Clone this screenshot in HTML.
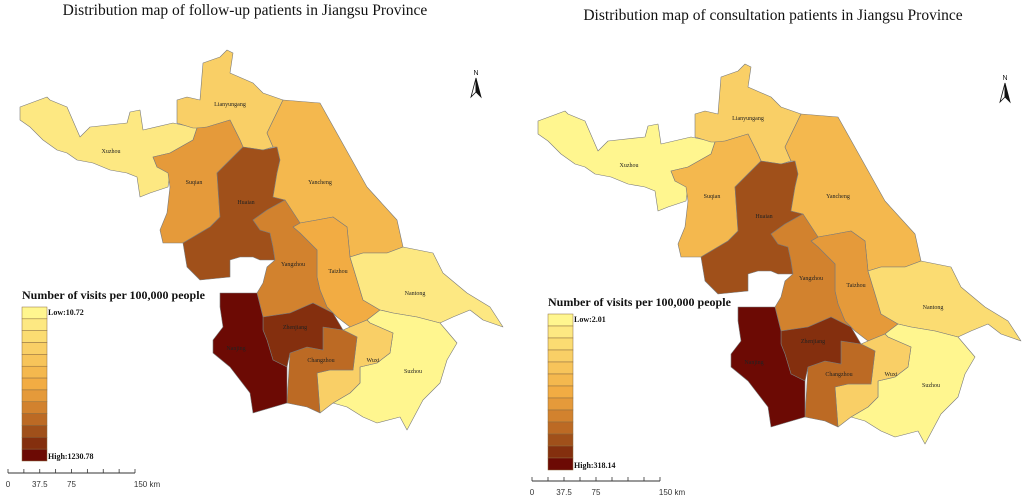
<!DOCTYPE html>
<html><head><meta charset="utf-8">
<style>
html,body{margin:0;padding:0;background:#fff;}
svg{display:block;}
.ttl{font-family:"Liberation Serif",serif;font-size:15.5px;fill:#111;}
.lbl{font-family:"Liberation Serif",serif;font-size:6px;fill:#222;text-anchor:middle;}
.lgt{font-family:"Liberation Serif",serif;font-weight:bold;font-size:12px;fill:#111;}
.lgl{font-family:"Liberation Serif",serif;font-weight:bold;font-size:8px;fill:#111;}
.sc{font-family:"Liberation Sans",sans-serif;font-size:8px;fill:#333;text-anchor:middle;}
</style></head>
<body>
<svg id="chart" width="1026" height="503" viewBox="0 0 1026 503"></svg>
<script>
const cities = ["Xuzhou","Lianyungang","Suqian","Huaian","Yancheng","Taizhou","Yangzhou","Nantong","Suzhou","Wuxi","Changzhou","Zhenjiang","Nanjing"];
const followUpValues = [112, 316, 722, 1027, 519, 620, 824, 112, 11, 316, 925, 1129, 1231];
const consultValues = [2, 81, 134, 265, 134, 186, 213, 55, 2, 81, 239, 292, 318];
const followUpRange = [10.72, 1230.78];
const consultRange = [2.01, 318.14];
const followUpLegend = ["Low:10.72", "High:1230.78"];
const consultLegend = ["Low:2.01", "High:318.14"];
const scaleTicks = ["0", "37.5", "75", "150 km"];

const ramp = ["#fff68f","#fde882","#fbdc72","#f9cf66","#f7c45a","#f4b84e","#f2ac43","#e59a3a","#d2822e","#bc6a24","#a0501a","#842f0e","#6c0a04"];
const shapes = {
Xuzhou:[[20,107],[47,97],[50,100],[67,107],[80,137],[90,127],[127,123],[130,112],[140,110],[143,130],[173,123],[197,128],[193,140],[170,153],[153,157],[157,167],[170,173],[168,187],[150,193],[140,197],[137,177],[127,173],[110,170],[93,163],[77,160],[67,153],[57,150],[43,140],[30,127],[20,120]],
Lianyungang:[[177,100],[187,97],[200,100],[203,63],[220,57],[227,50],[233,53],[230,73],[253,83],[263,93],[283,100],[267,133],[273,147],[263,150],[243,147],[240,140],[230,120],[207,127],[200,128],[193,128],[177,123]],
Suqian:[[197,128],[207,127],[230,120],[240,140],[243,147],[237,153],[217,173],[220,217],[210,227],[183,243],[163,243],[160,230],[167,213],[170,187],[168,173],[157,167],[153,157],[170,153],[193,140]],
Huaian:[[243,147],[263,150],[277,147],[280,160],[277,173],[273,197],[285,200],[267,210],[253,220],[260,230],[270,233],[273,247],[275,260],[260,260],[253,257],[240,257],[230,260],[230,277],[200,280],[187,267],[183,243],[210,227],[220,217],[217,173],[237,153]],
Yancheng:[[283,100],[320,103],[367,187],[397,220],[403,247],[387,253],[363,253],[350,257],[347,227],[333,217],[317,220],[300,223],[285,200],[273,197],[277,173],[280,160],[277,147],[273,147],[267,133]],
Taizhou:[[300,223],[317,220],[333,217],[347,227],[350,257],[357,280],[363,300],[380,310],[367,320],[350,327],[337,317],[327,307],[320,290],[317,277],[317,250],[300,233],[293,227]],
Yangzhou:[[253,220],[267,210],[285,200],[300,223],[293,227],[300,233],[317,250],[317,277],[320,290],[327,307],[333,313],[313,303],[290,313],[263,317],[257,293],[263,283],[267,267],[275,260],[273,247],[270,233],[260,230]],
Nantong:[[350,257],[363,253],[387,253],[403,247],[433,253],[443,273],[467,293],[490,307],[503,327],[483,320],[470,310],[453,317],[440,323],[417,317],[393,313],[380,310],[363,300],[357,280]],
Suzhou:[[367,320],[380,310],[393,313],[417,317],[440,323],[457,343],[447,360],[440,383],[423,400],[407,430],[400,417],[377,423],[363,417],[347,407],[333,403],[350,393],[360,383],[360,367],[377,363],[390,353],[393,333],[370,323]],
Wuxi:[[343,330],[350,327],[367,320],[370,323],[393,333],[390,353],[377,363],[360,367],[360,383],[350,393],[333,403],[320,413],[317,373],[330,370],[353,370],[357,337]],
Changzhou:[[323,327],[343,330],[357,337],[353,370],[330,370],[317,373],[320,413],[307,407],[287,403],[290,353],[307,347],[323,350]],
Zhenjiang:[[263,317],[290,313],[313,303],[333,313],[343,330],[323,327],[323,350],[307,347],[290,353],[287,367],[273,360],[267,340],[263,330]],
Nanjing:[[220,293],[257,293],[263,317],[263,330],[267,340],[273,360],[287,367],[287,403],[253,413],[250,393],[240,380],[230,367],[213,353],[213,340],[223,327],[220,307]]
};
const labelPos = {Xuzhou:[111,153],Lianyungang:[230,106],Suqian:[194,184],Huaian:[246,204],Yancheng:[320,184],Taizhou:[338,273],Yangzhou:[293,266],Nantong:[415,295],Suzhou:[413,373],Wuxi:[373,362],Changzhou:[321,362],Zhenjiang:[295,329],Nanjing:[236,350]};

const NS = "http://www.w3.org/2000/svg";
const svg = document.getElementById("chart");
function mk(tag, attrs, parent){const e=document.createElementNS(NS,tag);for(const k in attrs)e.setAttribute(k,attrs[k]);(parent||svg).appendChild(e);return e;}
function colorFor(v, range){let i=Math.round((v-range[0])/(range[1]-range[0])*(ramp.length-1));i=Math.max(0,Math.min(ramp.length-1,i));return ramp[i];}

function drawMap(o){
  const g=mk("g",{});
  
  
  const t=mk("text",{x:o.titleX,y:o.titleY,"text-anchor":"middle",class:"ttl"},g);
  t.textContent=o.title;
  
  
  const mg=mk("g",{transform:`translate(${o.dx},${o.dy})`},g);
  cities.forEach((c,i)=>{
    const p=mk("polygon",{points:shapes[c].map(q=>q.join(",")).join(" "),fill:colorFor(o.values[i],o.range),stroke:"#7a7a7a","stroke-width":"0.6","stroke-linejoin":"round"},mg);
    
    
  });
  cities.forEach(c=>{
    const l=mk("text",{x:labelPos[c][0],y:labelPos[c][1],class:"lbl"},mg);
    l.textContent=c;
    
    
  });
  const na=mk("g",{transform:`translate(${o.nx},${o.ny})`},g);
  
  
  const nt=mk("text",{x:0,y:0,"text-anchor":"middle","font-family":"Liberation Sans, sans-serif","font-size":"7",fill:"#111"},na);
  nt.textContent="N";
  mk("polygon",{points:"0,3 -5,22 0,17",fill:"#fff",stroke:"#111","stroke-width":"0.8"},na);
  mk("polygon",{points:"0,3 5,22 0,17",fill:"#111",stroke:"#111","stroke-width":"0.8"},na);
  const lg=mk("g",{},g);
  
  
  const lt=mk("text",{x:o.lx,y:o.ly-8,class:"lgt"},lg);
  lt.textContent="Number of visits per 100,000 people";
  const bh=(o.lh)/ramp.length;
  ramp.forEach((c,i)=>{
    const r=mk("rect",{x:o.lx,y:o.ly+i*bh,width:25,height:bh,fill:c,stroke:"#8a6a40","stroke-width":"0.5"},lg);
    
    
  });
  const l1=mk("text",{x:o.lx+26,y:o.ly+8,class:"lgl"},lg); l1.textContent=o.legend[0];
  const l2=mk("text",{x:o.lx+26,y:o.ly+o.lh-2,class:"lgl"},lg); l2.textContent=o.legend[1];
  const sb=mk("g",{},g);
  
  
  const w=o.sw;
  mk("line",{x1:o.sx,y1:o.sy,x2:o.sx+w,y2:o.sy,stroke:"#333","stroke-width":"1"},sb);
  for(let k=0;k<=8;k++){const x=o.sx+k*w/8;mk("line",{x1:x,y1:o.sy-4,x2:x,y2:o.sy,stroke:"#333","stroke-width":"0.8"},sb);}
  const tx=[0,w/4,w/2,w];
  scaleTicks.forEach((s,i)=>{const tt=mk("text",{x:o.sx+tx[i]+(i===3?12:0),y:o.sy+14,class:"sc"},sb);tt.textContent=s;});
}
drawMap({id:"follow-up",title:"Distribution map of follow-up patients in Jiangsu Province",titleX:245,titleY:15,dx:0,dy:0,values:followUpValues,range:followUpRange,legend:followUpLegend,nx:476,ny:75,lx:22,ly:307,lh:154,sx:8,sy:473,sw:127});
drawMap({id:"consultation",title:"Distribution map of consultation patients in Jiangsu Province",titleX:773,titleY:20,dx:518,dy:14,values:consultValues,range:consultRange,legend:consultLegend,nx:1005,ny:80,lx:548,ly:314,lh:156,sx:532,sy:481,sw:128});
</script>
</body></html>
